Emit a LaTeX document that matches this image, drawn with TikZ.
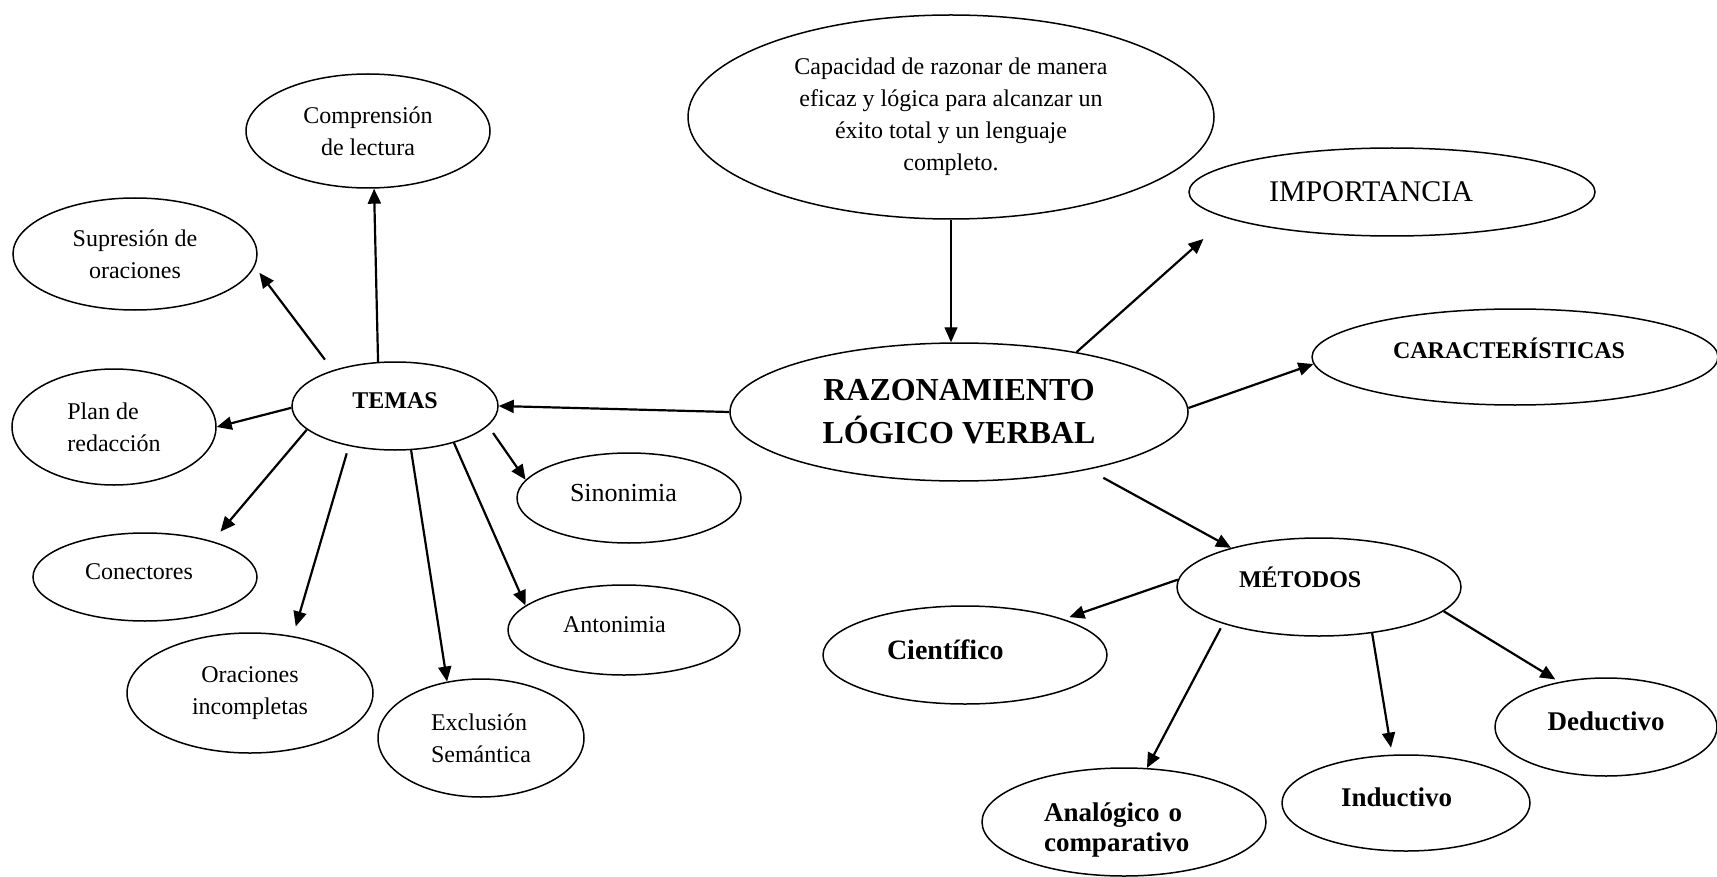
\documentclass[tikz,border=0pt]{standalone}
\usepackage{fontspec}
\setmainfont{Liberation Serif}
\usetikzlibrary{shapes.geometric, arrows.meta}

\begin{document}
\begin{tikzpicture}[
    x=0.5pt, y=-0.5pt,
    bubble/.style={draw, ellipse, line width=0.75pt, inner sep=1pt, align=center, font=\fontsize{12}{16}\selectfont},
    big/.style={font=\fontsize{16}{21.5}\selectfont\bfseries},
    head/.style={font=\fontsize{12}{16}\selectfont\bfseries},
    method/.style={font=\fontsize{13.5}{15}\selectfont\bfseries},
    arrow/.style={line width=1.1pt, -{Triangle[length=7.5pt,width=6.5pt]}}
]
    \useasboundingbox (0,0) rectangle (1717,877);

    % Centre and definition
    \node (cap) [bubble, minimum width=263pt, minimum height=102pt] at (951,117) {Capacidad de razonar de manera\\eficaz y lógica para alcanzar un\\éxito total y un lenguaje\\completo.};
    \node (raz) [bubble, big, minimum width=229pt, minimum height=69pt] at (959,412) {RAZONAMIENTO\\LÓGICO VERBAL};
    \node (imp) [bubble, font=\fontsize{15}{16}\selectfont, text width=123pt, align=left, minimum width=203pt, minimum height=44pt] at (1392,192) {IMPORTANCIA};
    \node (car) [bubble, head, text width=122pt, align=left, text depth=8.8pt, minimum width=203pt, minimum height=48pt] at (1515,357) {CARACTERÍSTICAS};

    % Methods
    \node (met) [bubble, head, text width=80pt, align=left, text depth=9.9pt, minimum width=142pt, minimum height=49pt] at (1319,587) {MÉTODOS};
    \node (cien) [bubble, font=\fontsize{14}{16}\selectfont\bfseries, text width=78pt, align=left, text depth=5.5pt, minimum width=142pt, minimum height=49pt] at (965,655) {Científico};
    \node (anal) [bubble, method, text width=80pt, align=left, text height=17.5pt, minimum width=142pt, minimum height=54pt] at (1124,822) {Analógico o\\comparativo};
    \node (induc) [bubble, method, text width=65pt, align=left, text depth=5.5pt, minimum width=124pt, minimum height=48pt] at (1406,803) {Inductivo};
    \node (deduc) [bubble, method, text depth=5.5pt, minimum width=111pt, minimum height=49pt] at (1606,727) {Deductivo};

    % Topics
    \node (temas) [bubble, head, text depth=5.5pt, minimum width=103pt, minimum height=44pt] at (395,406) {TEMAS};
    \node (comp) [bubble, minimum width=122pt, minimum height=57pt] at (368,131) {Comprensión\\de lectura};
    \node (supr) [bubble, minimum width=122pt, minimum height=56pt] at (135,254) {Supresión de\\oraciones};
    \node (plan) [bubble, align=left, minimum width=102pt, minimum height=58pt] at (114,427) {Plan de\\redacción};
    \node (sino) [bubble, font=\fontsize{13}{16}\selectfont, text width=59pt, align=left, text depth=5.5pt, minimum width=112pt, minimum height=45pt] at (629,498) {Sinonimia};
    \node (anto) [bubble, text width=61pt, align=left, text depth=5.5pt, minimum width=116pt, minimum height=45pt] at (624,630) {Antonimia};
    \node (conec) [bubble, text width=60pt, align=left, text depth=5.5pt, minimum width=112pt, minimum height=44pt] at (145,577) {Conectores};
    \node (orac) [bubble, minimum width=123pt, minimum height=60pt] at (250,693) {Oraciones\\incompletas};
    \node (excl) [bubble, align=left, minimum width=103pt, minimum height=59pt] at (481,738) {Exclusión\\Semántica};

    % Connections from the centre
    \draw [arrow, line width=0.7pt] (cap.south) -- (cap.south |- raz.north);
    \draw [arrow, shorten >=15.6pt] (raz.27) -- (imp.189);
    \draw [arrow] (raz.1) -- (car.182);
    \draw [arrow, shorten <=8.5pt] (raz.-24) -- (met.156);
    \draw [arrow] (raz.west) -- (temas.east);

    % Methods
    \draw [arrow, shorten >=3pt] (met.177) -- (cien.20);
    \draw [arrow, shorten <=2.5pt] (met.201) -- (anal.67);
    \draw [arrow, shorten >=3.5pt] (met.-41) -- (induc.106);
    \draw [arrow, shorten >=2.3pt] (met.-11.5) -- (deduc.136);

    % Topics
    \draw [arrow] (temas.111) -- (comp.-84);
    \draw [arrow, shorten <=6.6pt, shorten >=3.9pt] (temas.150) -- (supr.-6);
    \draw [arrow] (temas.181) -- (plan.east);
    \draw [arrow, shorten <=4.4pt] (temas.-12) -- (sino.170);
    \draw [arrow] (temas.-32.5) -- (anto.166);
    \draw [arrow] (temas.-70) -- (excl.121);
    \draw [arrow, shorten <=3.8pt, shorten >=5pt] (temas.221.5) -- (orac.53);
    \draw [arrow, shorten >=6.2pt] (temas.195) -- (conec.28);
\end{tikzpicture}
\end{document}
